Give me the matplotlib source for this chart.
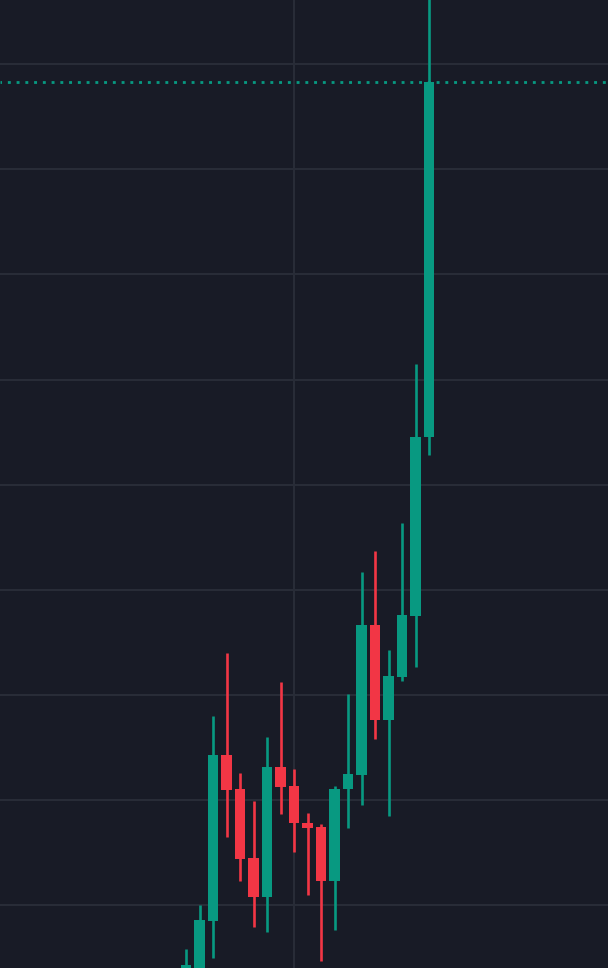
import matplotlib
matplotlib.use("Agg")
import matplotlib.pyplot as plt
import numpy as np

# OHLC values (arbitrary price units)
opens  = [3.63, 3.82, 8.48, 24.27, 21.04, 14.47, 10.76, 23.13, 21.32, 17.80,
          17.42, 12.28, 21.04, 22.37, 36.64, 27.60, 31.69, 37.50, 54.53]
highs  = [5.81, 10.00, 27.98, 33.98, 22.56, 19.90, 25.98, 31.22, 22.94, 18.75,
          17.71, 21.32, 30.08, 41.68, 43.68, 34.26, 46.35, 61.48, 98.00]
lows   = [3.34, 3.34, 4.96, 16.47, 12.28, 7.91, 7.43, 18.66, 15.04, 10.95,
          4.67, 7.62, 17.33, 19.51, 25.79, 18.47, 31.31, 32.65, 52.82]
closes = [4.29, 8.57, 24.27, 20.94, 14.38, 10.76, 23.13, 21.23, 17.80, 17.33,
          12.28, 21.04, 22.46, 36.64, 27.60, 31.79, 37.59, 54.53, 88.31]

bg = '#181b26'
up = '#089981'
down = '#f23645'
grid = '#282c37'

fig = plt.figure(figsize=(6.08, 9.68), dpi=100, facecolor=bg)
ax = fig.add_axes([0, 0, 1, 1])
ax.set_facecolor(bg)

x = np.arange(len(opens))
o = np.array(opens)
c = np.array(closes)
colors = [up if cc >= oo else down for oo, cc in zip(o, c)]

ax.vlines(x, lows, highs, color=colors, lw=1.9, zorder=3)
bottom = np.minimum(o, c)
height = np.maximum(np.abs(c - o), 0.4)
ax.bar(x, height, bottom=bottom, width=0.81, color=colors, zorder=4, linewidth=0)

# last price line
ax.axhline(closes[-1], color=up, lw=2.0, ls=(0.5, (1.05, 2.1)), zorder=2)

ax.set_yticks(np.arange(10, 100, 10))
ax.set_xticks([8])
ax.set_xlim(-13.78, 31.26)
ax.set_ylim(4.006, 96.11)
ax.grid(True, color=grid, lw=1.5, zorder=0)
ax.tick_params(length=0, labelleft=False, labelbottom=False)
for s in ax.spines.values():
    s.set_visible(False)

plt.savefig('out.png', dpi=100, facecolor=bg)
